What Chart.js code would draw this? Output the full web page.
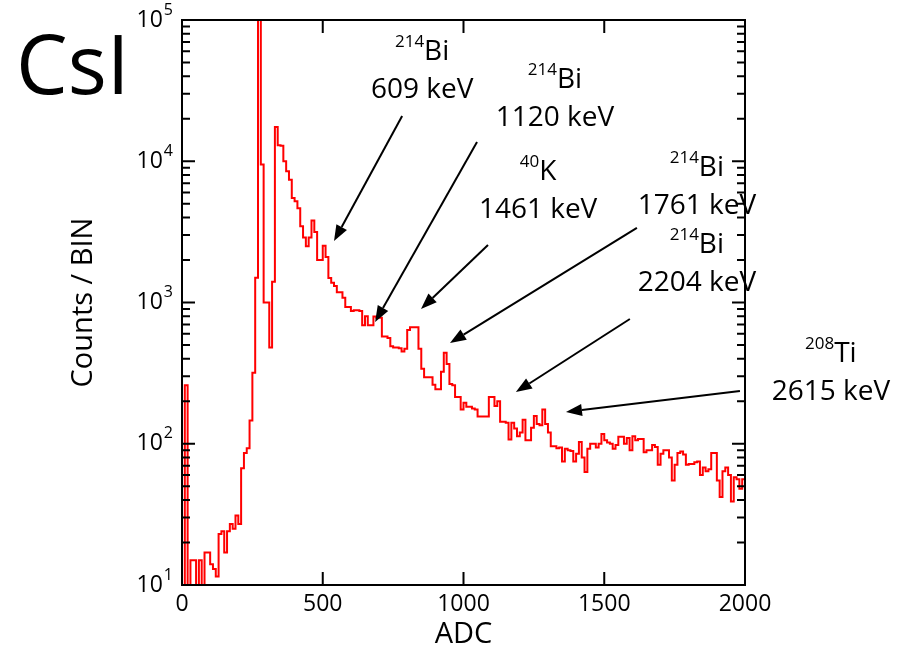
<!DOCTYPE html>
<html>
<head>
<meta charset="utf-8">
<script src="https://cdn.jsdelivr.net/npm/chart.js@4.4.1/dist/chart.umd.min.js"></script>
<style>
  html, body { margin: 0; padding: 0; background: #fff; }
  canvas { display: block; }
</style>
</head>
<body>
<canvas id="spectrum" width="921" height="652"></canvas>
<script>
// CsI background spectrum, counts per 10-ADC bin
const binWidth = 10;
const adcMin = 0;
const adcMax = 2000;
const counts = [
  0, 260, 0, 15, 15, 0, 15, 0, 17, 17,                      // 0 - 90
  14, 13, 11.5, 23, 24, 17, 24, 27, 25, 31,                 // 100 - 190
  27, 67, 86, 93, 146, 318, 1500, 300000, 9500, 1000,       // 200 - 290
  1000, 480, 1400, 17500, 13000, 12900, 10000, 8500, 7400, 5500,
  5200, 4650, 3470, 2880, 2500, 2880, 3800, 3150, 2000, 2000,
  2520, 2100, 1490, 1380, 1310, 1180, 1180, 1080, 930, 930,
  870, 880, 880, 870, 690, 800, 690, 690, 795, 780,
  780, 575, 575, 560, 490, 480, 480, 475, 450, 470,
  640, 667, 667, 667, 470, 340, 296, 296, 296, 262,
  243, 243, 324, 440, 367, 265, 260, 214, 214, 175,
  195, 183, 183, 178, 175, 156, 156, 156, 156, 214,         // 1000 - 1090
  214, 185, 200, 143, 143, 141, 107, 141, 128, 113,
  120, 148, 106, 106, 130, 157, 138, 135, 175, 138,
  120, 96, 96, 93, 94, 75, 92, 90, 89, 75,
  85, 103, 80, 63, 92, 100, 100, 94, 100, 117,
  106, 102, 100, 92, 98, 112, 112, 100, 110, 90,
  113, 106, 108, 108, 87, 90, 90, 98, 95, 71,
  85, 90, 90, 80, 55, 71, 86, 88, 84, 71,
  72, 72, 74, 75, 60, 68, 64, 66, 86, 86,
  55, 42, 64, 68, 60, 39, 58, 56, 48, 56                    // 1900 - 1990
];
const xTickStep = 500;
const yDecades = [1, 2, 3, 4, 5];

// peak annotations: label anchor and arrow ends in data units (ADC, counts)
const peakLabels = [
  { mass: '214', el: 'Bi', energy: '609 keV',  label: [853, 61400],  from: [782, 20900],  to: [540, 2720] },
  { mass: '214', el: 'Bi', energy: '1120 keV', label: [1325, 38800], from: [1048, 13700], to: [686, 728] },
  { mass: '40',  el: 'K',  energy: '1461 keV', label: [1265, 8670],  from: [1087, 2550],  to: [849, 900] },
  { mass: '214', el: 'Bi', energy: '1761 keV', label: [1829, 9250],  from: [1616, 3370],  to: [952, 516] },
  { mass: '214', el: 'Bi', energy: '2204 keV', label: [1829, 2640],  from: [1591, 764],   to: [1186, 232] },
  { mass: '208', el: 'Ti', energy: '2615 keV', label: [2305, 447],   from: [1982, 236],   to: [1364, 168] }
];

const FONT = '"Open Sans", "Noto Sans", sans-serif';

// histogram outline: one point per bin edge, empty bins pushed below the log axis
const points = counts.map((c, i) => ({ x: adcMin + i * binWidth, y: c > 0 ? c : 1 }));
points.push({ x: adcMax, y: counts[counts.length - 1] });

const decorations = {
  id: 'decorations',
  afterDatasetsDraw(chart) {
    const { ctx, chartArea: a, scales: { x, y } } = chart;
    ctx.save();
    ctx.strokeStyle = '#000';
    ctx.fillStyle = '#000';
    ctx.lineWidth = 2;

    // inward ticks on all four sides
    ctx.beginPath();
    y.ticks.forEach(t => {
      const py = y.getPixelForValue(t.value);
      const len = t.major ? 13 : 8;
      ctx.moveTo(a.left, py); ctx.lineTo(a.left + len, py);
      ctx.moveTo(a.right, py); ctx.lineTo(a.right - len, py);
    });
    x.ticks.forEach(t => {
      const px = x.getPixelForValue(t.value);
      ctx.moveTo(px, a.bottom); ctx.lineTo(px, a.bottom - 13);
      ctx.moveTo(px, a.top); ctx.lineTo(px, a.top + 13);
    });
    ctx.stroke();
    ctx.strokeRect(a.left, a.top, a.right - a.left, a.bottom - a.top);

    // y labels as 10^n
    ctx.textBaseline = 'middle';
    ctx.textAlign = 'right';
    yDecades.forEach(p => {
      const py = y.getPixelForValue(Math.pow(10, p));
      ctx.font = '16px ' + FONT;
      const ew = ctx.measureText(String(p)).width;
      ctx.fillText(String(p), a.left - 9, py - 10);
      ctx.font = '23px ' + FONT;
      ctx.fillText('10', a.left - 10 - ew, py);
    });

    // detector name
    ctx.textAlign = 'left';
    ctx.textBaseline = 'alphabetic';
    ctx.font = '82px ' + FONT;
    ctx.fillText('CsI', 16, 94);

    // peak labels and arrows
    peakLabels.forEach(p => {
      const lx = x.getPixelForValue(p.label[0]);
      const ly = y.getPixelForValue(p.label[1]);
      ctx.font = '17px ' + FONT;
      const wm = ctx.measureText(p.mass).width;
      ctx.font = '28px ' + FONT;
      const we = ctx.measureText(p.el).width;
      const x0 = lx - (wm + we) / 2;
      ctx.textAlign = 'left';
      ctx.fillText(p.el, x0 + wm, ly + 10);
      ctx.font = '17px ' + FONT;
      ctx.fillText(p.mass, x0, ly - 3);
      ctx.font = '28px ' + FONT;
      ctx.textAlign = 'center';
      ctx.fillText(p.energy, lx, ly + 48);

      const fx = x.getPixelForValue(p.from[0]), fy = y.getPixelForValue(p.from[1]);
      const tx = x.getPixelForValue(p.to[0]), ty = y.getPixelForValue(p.to[1]);
      const ang = Math.atan2(ty - fy, tx - fx);
      const hl = 16, hw = 6;
      const bx = tx - hl * Math.cos(ang), by = ty - hl * Math.sin(ang);
      ctx.beginPath();
      ctx.moveTo(fx, fy);
      ctx.lineTo(bx, by);
      ctx.stroke();
      ctx.beginPath();
      ctx.moveTo(tx, ty);
      ctx.lineTo(bx + hw * Math.sin(ang), by - hw * Math.cos(ang));
      ctx.lineTo(bx - hw * Math.sin(ang), by + hw * Math.cos(ang));
      ctx.closePath();
      ctx.fill();
    });
    ctx.restore();
  }
};

new Chart(document.getElementById('spectrum'), {
  type: 'line',
  data: {
    datasets: [{
      data: points,
      borderColor: '#ff0000',
      borderWidth: 2,
      pointRadius: 0,
      stepped: true,
      fill: false
    }]
  },
  options: {
    responsive: false,
    animation: false,
    layout: { padding: { left: 66, right: 176, top: 20, bottom: 0 } },
    plugins: { legend: { display: false }, tooltip: { enabled: false } },
    scales: {
      x: {
        type: 'linear',
        min: adcMin,
        max: adcMax,
        grid: { display: false, drawTicks: false },
        border: { display: false },
        ticks: {
          stepSize: xTickStep,
          color: '#000',
          font: { family: FONT, size: 23 },
          padding: 6,
          maxRotation: 0,
          callback: v => String(v)
        },
        title: { display: true, text: 'ADC', color: '#000', font: { family: FONT, size: 29 }, padding: 0 },
        afterFit: s => { s.height = 67; }
      },
      y: {
        type: 'logarithmic',
        min: Math.pow(10, yDecades[0]),
        max: Math.pow(10, yDecades[yDecades.length - 1]),
        grid: { display: false, drawTicks: false },
        border: { display: false },
        ticks: { display: false },
        afterBuildTicks: s => {
          const t = [];
          yDecades.forEach((p, i) => {
            const base = Math.pow(10, p);
            t.push({ value: base, major: true });
            if (i < yDecades.length - 1) {
              for (let m = 2; m <= 9; m++) t.push({ value: m * base, major: false });
            }
          });
          s.ticks = t;
        },
        title: { display: true, text: 'Counts / BIN', color: '#000', font: { family: FONT, size: 29 }, padding: 0 },
        afterFit: s => { s.width = 116; }
      }
    }
  },
  plugins: [decorations]
});
</script>
</body>
</html>
